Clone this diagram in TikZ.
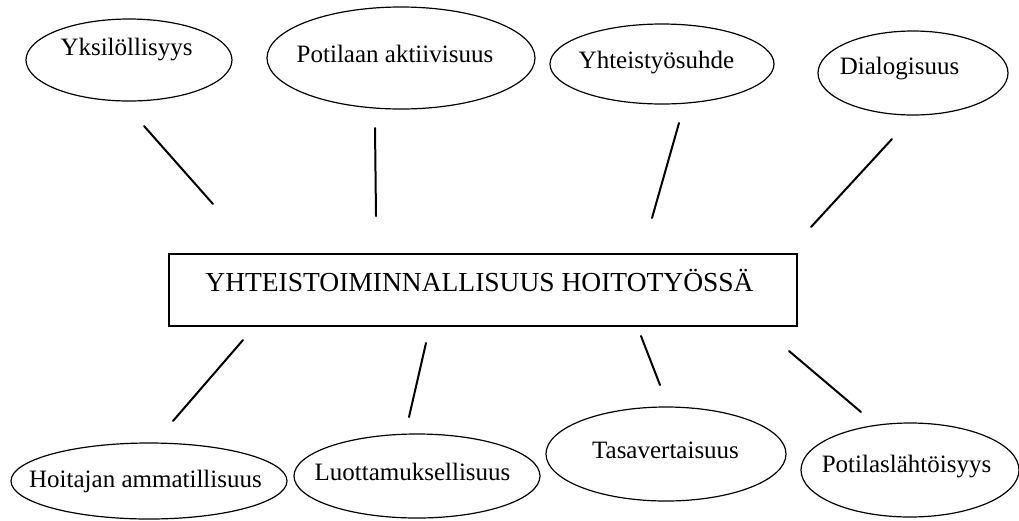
\documentclass[tikz,border=0pt]{standalone}
\usepackage{fontspec}
\setmainfont{Liberation Serif}
\usetikzlibrary{shapes.geometric}
\begin{document}
\begin{tikzpicture}[x=1pt,y=-1pt,
  oval/.style={draw=black,line width=1.2pt,ellipse,inner sep=0pt},
  lbl/.style={anchor=base,inner sep=0pt,font=\fontsize{25}{30}\selectfont},
  conn/.style={draw=black,line width=2pt,line cap=round}]
\useasboundingbox (0,0) rectangle (1019,520);
% ellipses
\node[oval,minimum width=206pt,minimum height=82pt] (e1) at (129,60) {};
\node[oval,minimum width=268pt,minimum height=102pt] (e2) at (401,58) {};
\node[oval,minimum width=224pt,minimum height=80pt] (e3) at (662,64) {};
\node[oval,minimum width=190pt,minimum height=84pt] (e4) at (913,73) {};
\node[oval,minimum width=276pt,minimum height=76pt] (e5) at (149,481) {};
\node[oval,minimum width=246pt,minimum height=84pt] (e6) at (417,476) {};
\node[oval,minimum width=240pt,minimum height=94pt] (e7) at (666,454) {};
\node[oval,minimum width=218pt,minimum height=94pt] (e8) at (910,470) {};
% labels
\node[lbl] (t1) at (126.5,55) {Yksilöllisyys};
\node[lbl] (t2) at (395,62) {Potilaan aktiivisuus};
\node[lbl] (t3) at (656.5,68) {Yhteistyösuhde};
\node[lbl] (t4) at (899.5,74) {Dialogisuus};
\node[lbl] (t5) at (145.5,487) {Hoitajan ammatillisuus};
\node[lbl] (t6) at (412.5,480) {Luottamuksellisuus};
\node[lbl] (t7) at (665.5,458) {Tasavertaisuus};
\node[lbl] (t8) at (906.5,472) {Potilaslähtöisyys};
% centre box
\node[draw=black,line width=1.5pt,minimum width=628pt,minimum height=72pt,inner sep=0pt] (box) at (483,290) {};
\node[lbl,font=\fontsize{27.5}{33}\selectfont] (tc) at (479.5,291) {YHTEISTOIMINNALLISUUS HOITOTYÖSSÄ};
% connector end points
\coordinate (a1) at (144,126); \coordinate (b1) at (213,204);
\coordinate (a2) at (375,128); \coordinate (b2) at (376,216);
\coordinate (a3) at (679,123); \coordinate (b3) at (652,218);
\coordinate (a4) at (892,139); \coordinate (b4) at (811,227);
\coordinate (a5) at (243,340); \coordinate (b5) at (173,421);
\coordinate (a6) at (426,343); \coordinate (b6) at (409,417);
\coordinate (a7) at (641,336); \coordinate (b7) at (660,385);
\coordinate (a8) at (789,351); \coordinate (b8) at (861,412);
\foreach \i in {1,...,8} {\draw[conn] (a\i) -- (b\i);}
\end{tikzpicture}
\end{document}
